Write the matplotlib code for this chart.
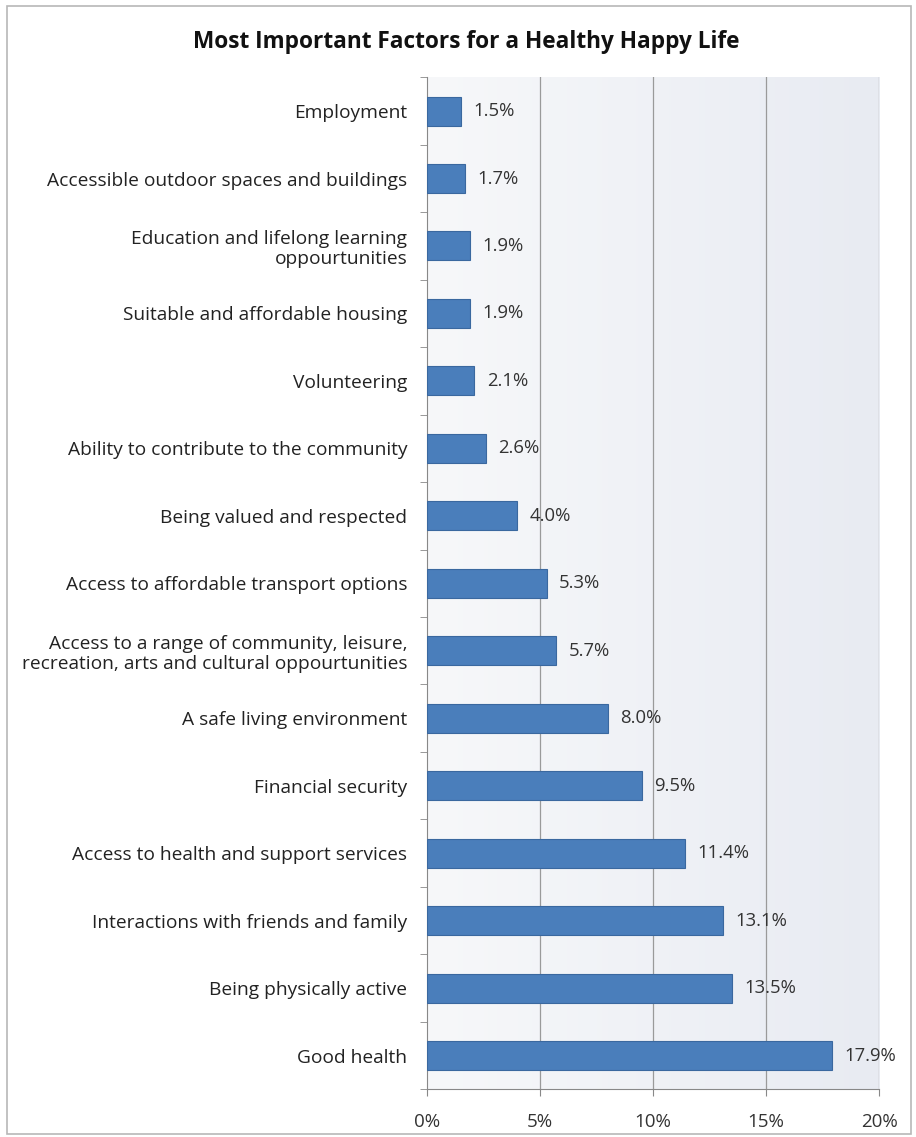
import matplotlib.pyplot as plt
import numpy as np
from matplotlib.patches import Rectangle

plt.rcParams['font.family'] = ['Open Sans', 'DejaVu Sans']

# survey results, top to bottom
factors = [
    'Employment',
    'Accessible outdoor spaces and buildings',
    'Education and lifelong learning\noppourtunities',
    'Suitable and affordable housing',
    'Volunteering',
    'Ability to contribute to the community',
    'Being valued and respected',
    'Access to affordable transport options',
    'Access to a range of community, leisure,\nrecreation, arts and cultural oppourtunities',
    'A safe living environment',
    'Financial security',
    'Access to health and support services',
    'Interactions with friends and family',
    'Being physically active',
    'Good health',
]
shares = [1.5, 1.7, 1.9, 1.9, 2.1, 2.6, 4.0, 5.3, 5.7, 8.0, 9.5, 11.4, 13.1, 13.5, 17.9]
x_ticks = [0, 5, 10, 15, 20]

fig = plt.figure(figsize=(9.16, 11.37), dpi=100)
fig.patch.set_facecolor('white')
fig.add_artist(Rectangle((0.008, 0.003), 0.987, 0.992, transform=fig.transFigure,
                         fill=False, edgecolor='#b8b8b8', linewidth=1.2))

ax = fig.add_axes([0.466, 0.042, 0.494, 0.890])

# soft gradient background in the plot area
grad = np.linspace(0, 1, 256).reshape(1, -1)
ax.imshow(grad, extent=[0, 20, len(factors) - 0.5, -0.5], aspect='auto',
          cmap=plt.matplotlib.colors.LinearSegmentedColormap.from_list(
              'bg', ['#f7f8fa', '#e8ebf2']), zorder=0)

y = np.arange(len(factors))
ax.barh(y, shares, height=0.43, color='#4a7ebb', edgecolor='#3a689f',
        linewidth=0.8, zorder=3)

for yi, v in zip(y, shares):
    ax.text(v + 0.55, yi, f'{v:.1f}%', va='center', ha='left',
            fontsize=13.3, color='#333333', zorder=4)

ax.set_xlim(0, 20)
ax.set_ylim(len(factors) - 0.5, -0.5)
ax.set_xticks(x_ticks)
ax.set_xticklabels([f'{t}%' for t in x_ticks], fontsize=13.5, color='#333333')
ax.set_yticks(y)
ax.set_yticklabels(factors, fontsize=13.8, color='#222222',
                   multialignment='right', linespacing=1.15)
ax.tick_params(axis='y', length=0, pad=14)
ax.tick_params(axis='x', length=5, color='#888888', pad=12)

# category separators on the y axis
ax.set_yticks(np.arange(len(factors) + 1) - 0.5, minor=True)
ax.tick_params(axis='y', which='minor', length=5, color='#888888')

for t in x_ticks[1:]:
    ax.axvline(t, color='#9a9a9a', linewidth=0.9, zorder=1)

for side in ['top', 'right']:
    ax.spines[side].set_visible(False)
ax.spines['left'].set_color('#888888')
ax.spines['bottom'].set_color('#888888')

fig.text(0.509, 0.963, 'Most Important Factors for a Healthy Happy Life',
         ha='center', va='center', fontsize=16.3, fontweight='bold', color='#111111')

fig.savefig('out.png', dpi=100)
